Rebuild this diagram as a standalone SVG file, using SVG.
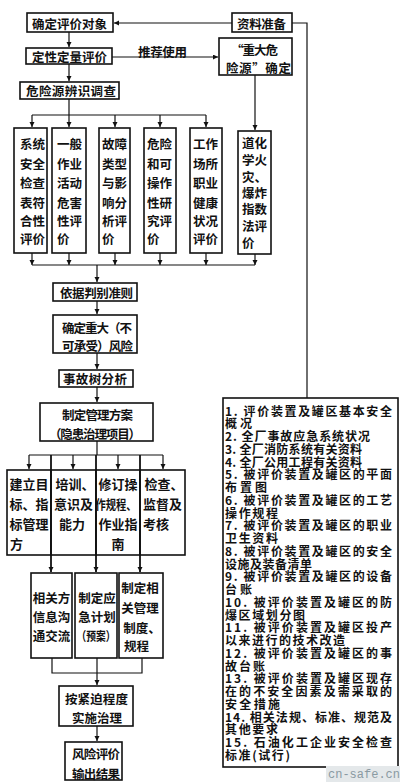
<svg xmlns="http://www.w3.org/2000/svg" width="400" height="782" viewBox="0 0 400 782">
<style>
text{font-family:"Noto Sans CJK SC","Noto Sans",sans-serif;font-weight:bold;fill:#111;dominant-baseline:central}
.b{fill:#fff;stroke:#111;stroke-width:1.6}
.t{font-size:12.5px}
.v{font-size:12.5px}
.m{font-size:13px;text-anchor:middle}
.s{font-size:12.5px;text-anchor:middle}
.l{font-size:12px;font-weight:bold}
.c{fill:none;stroke:#111;stroke-width:1.2}
.wm{font-family:"Liberation Mono",monospace;font-weight:normal;font-size:12px;fill:#8a9aa2}
</style>
<defs>
<marker id="ah" markerWidth="6" markerHeight="6" refX="5" refY="2.5" orient="auto" markerUnits="userSpaceOnUse">
<path d="M0,0 L5,2.5 L0,5 z" fill="#111"/>
</marker>
</defs>

<g id="n-object"><rect class="b" x="27" y="13" width="86" height="19"/><text class="t" x="32" y="23" textLength="75" lengthAdjust="spacing">确定评价对象</text></g>
<g id="n-data"><rect class="b" x="232" y="13" width="60" height="19"/><text class="t" x="237" y="23" textLength="49" lengthAdjust="spacing">资料准备</text></g>
<g id="n-quant"><rect class="b" x="26" y="48" width="86" height="16"/><text class="t" x="32" y="56" textLength="75" lengthAdjust="spacing">定性定量评价</text></g>
<g id="n-major"><rect class="b" x="219" y="38" width="73" height="37"/><text class="t" x="231" y="49" textLength="47" lengthAdjust="spacing">“重大危</text><text class="t" x="226" y="67" textLength="65" lengthAdjust="spacing">险源”确定</text></g>
<g id="n-hazard"><rect class="b" x="20" y="82" width="99" height="17"/><text class="t" x="26" y="90.5" textLength="90" lengthAdjust="spacing">危险源辨识调查</text></g>

<g id="n-m1"><rect class="b" x="14" y="128" width="33" height="125"/>
<text class="v" x="20" y="143">系统</text><text class="v" x="20" y="163">安全</text><text class="v" x="20" y="182">检查</text><text class="v" x="20" y="202">表符</text><text class="v" x="20" y="220">合性</text><text class="v" x="20" y="238">评价</text></g>
<g id="n-m2"><rect class="b" x="52" y="128" width="34" height="125"/>
<text class="v" x="57" y="143">一般</text><text class="v" x="57" y="163">作业</text><text class="v" x="57" y="182">活动</text><text class="v" x="57" y="202">危害</text><text class="v" x="57" y="220">性评</text><text class="v" x="57" y="238">价</text></g>
<g id="n-m3"><rect class="b" x="99" y="128" width="31" height="125"/>
<text class="v" x="102" y="143">故障</text><text class="v" x="102" y="163">类型</text><text class="v" x="102" y="182">与影</text><text class="v" x="102" y="202">响分</text><text class="v" x="102" y="220">析评</text><text class="v" x="102" y="238">价</text></g>
<g id="n-m4"><rect class="b" x="144" y="128" width="32" height="125"/>
<text class="v" x="147" y="143">危险</text><text class="v" x="147" y="163">和可</text><text class="v" x="147" y="182">操作</text><text class="v" x="147" y="202">性研</text><text class="v" x="147" y="220">究评</text><text class="v" x="147" y="238">价</text></g>
<g id="n-m5"><rect class="b" x="190" y="128" width="32" height="125"/>
<text class="v" x="193" y="143">工作</text><text class="v" x="193" y="163">场所</text><text class="v" x="193" y="182">职业</text><text class="v" x="193" y="202">健康</text><text class="v" x="193" y="220">状况</text><text class="v" x="193" y="238">评价</text></g>
<g id="n-m6"><rect class="b" x="238" y="131" width="33" height="123"/>
<text class="v" x="242" y="142">道化</text><text class="v" x="242" y="159">学火</text><text class="v" x="242" y="176">灾、</text><text class="v" x="242" y="192">爆炸</text><text class="v" x="242" y="208">指数</text><text class="v" x="242" y="225">法评</text><text class="v" x="242" y="242">价</text></g>

<g id="n-criteria"><rect class="b" x="53" y="283" width="84" height="18"/><text class="t" x="60" y="292" textLength="73" lengthAdjust="spacing">依据判别准则</text></g>
<g id="n-risk"><rect class="b" x="53" y="315" width="84" height="38"/><text class="t" x="62" y="327" textLength="70" lengthAdjust="spacing">确定重大（不</text><text class="t" x="62" y="345" textLength="71" lengthAdjust="spacing">可承受）风险</text></g>
<g id="n-fta"><rect class="b" x="59" y="370" width="74" height="17"/><text class="t" x="63" y="378.5" textLength="64" lengthAdjust="spacing">事故树分析</text></g>
<g id="n-plan"><rect class="b" x="40" y="403" width="113" height="38"/><text class="t" x="62" y="414" textLength="71" lengthAdjust="spacing">制定管理方案</text><text class="t" x="49" y="433" textLength="92" lengthAdjust="spacing">（隐患治理项目）</text></g>

<g id="n-p1"><rect class="b" x="7" y="470" width="44" height="85"/>
<text class="m" x="29" y="483">建立目</text><text class="m" x="29" y="503">标、指</text><text class="m" x="29" y="523">标管理</text><text class="m" x="10" y="543" style="text-anchor:start">方</text></g>
<g id="n-p2"><rect class="b" x="51" y="470" width="45" height="85"/>
<text class="m" x="75" y="483">培训、</text><text class="m" x="73.5" y="503">意识及</text><text class="m" x="72" y="523">能力</text></g>
<g id="n-p3"><rect class="b" x="96" y="470" width="44" height="85"/>
<text class="m" x="118" y="483">修订操</text><text class="m" x="116" y="503" textLength="41" lengthAdjust="spacingAndGlyphs">作规程、</text><text class="m" x="118" y="523">作业指</text><text class="m" x="118" y="543">南</text></g>
<g id="n-p4"><rect class="b" x="140" y="470" width="45" height="85"/>
<text class="m" x="164" y="483">检查、</text><text class="m" x="162.5" y="503">监督及</text><text class="m" x="143" y="523" style="text-anchor:start">考核</text></g>

<g id="n-q1"><rect class="b" x="31" y="573" width="41" height="85"/>
<text class="s" x="51.5" y="597">相关方</text><text class="s" x="51.5" y="616">信息沟</text><text class="s" x="51.5" y="635">通交流</text></g>
<g id="n-q2"><rect class="b" x="75" y="573" width="42" height="85"/>
<text class="s" x="97" y="597">制定应</text><text class="s" x="97" y="616">急计划</text><text class="s" x="96" y="635" textLength="39" lengthAdjust="spacingAndGlyphs">（预案）</text></g>
<g id="n-q3"><rect class="b" x="119" y="573" width="44" height="85"/>
<text class="s" x="140" y="587">制定相</text><text class="s" x="140" y="607">关管理</text><text class="s" x="142" y="627">制度、</text><text class="s" x="124" y="645" style="text-anchor:start">规程</text></g>

<g id="n-act"><rect class="b" x="59" y="686" width="74" height="40"/><text class="t" x="65" y="698" textLength="63" lengthAdjust="spacing">按紧迫程度</text><text class="t" x="72" y="717" textLength="50" lengthAdjust="spacing">实施治理</text></g>
<g id="n-out"><rect class="b" x="65" y="742" width="57" height="38"/><text class="t" x="72" y="753" textLength="48" lengthAdjust="spacing">风险评价</text><text class="t" x="72" y="773" textLength="48" lengthAdjust="spacing">输出结果</text></g>

<g id="n-list"><rect class="b" x="223" y="398" width="175" height="369"/>
<text class="l" x="225" y="410" textLength="167" lengthAdjust="spacing">1. 评价装置及罐区基本安全</text>
<text class="l" x="225" y="422.75" textLength="27" lengthAdjust="spacing">概况</text>
<text class="l" x="225" y="435.5" textLength="145" lengthAdjust="spacing">2. 全厂事故应急系统状况</text>
<text class="l" x="225" y="448.25" textLength="137" lengthAdjust="spacing">3. 全厂消防系统有关资料</text>
<text class="l" x="225" y="461" textLength="137" lengthAdjust="spacing">4. 全厂公用工程有关资料</text>
<text class="l" x="225" y="473.75" textLength="167" lengthAdjust="spacing">5. 被评价装置及罐区的平面</text>
<text class="l" x="225" y="486.5" textLength="42" lengthAdjust="spacing">布置图</text>
<text class="l" x="225" y="499.25" textLength="167" lengthAdjust="spacing">6. 被评价装置及罐区的工艺</text>
<text class="l" x="225" y="512" textLength="53" lengthAdjust="spacing">操作规程</text>
<text class="l" x="225" y="524.75" textLength="167" lengthAdjust="spacing">7. 被评价装置及罐区的职业</text>
<text class="l" x="225" y="537.5" textLength="53" lengthAdjust="spacing">卫生资料</text>
<text class="l" x="225" y="550.25" textLength="167" lengthAdjust="spacing">8. 被评价装置及罐区的安全</text>
<text class="l" x="225" y="563" textLength="87" lengthAdjust="spacing">设施及装备清单</text>
<text class="l" x="225" y="575.75" textLength="167" lengthAdjust="spacing">9. 被评价装置及罐区的设备</text>
<text class="l" x="225" y="588.5" textLength="27" lengthAdjust="spacing">台账</text>
<text class="l" x="225" y="601.25" textLength="167" lengthAdjust="spacing">10. 被评价装置及罐区的防</text>
<text class="l" x="225" y="614" textLength="80" lengthAdjust="spacing">爆区域划分图</text>
<text class="l" x="225" y="626.75" textLength="167" lengthAdjust="spacing">11. 被评价装置及罐区投产</text>
<text class="l" x="225" y="639.5" textLength="120" lengthAdjust="spacing">以来进行的技术改造</text>
<text class="l" x="225" y="652.25" textLength="167" lengthAdjust="spacing">12. 被评价装置及罐区的事</text>
<text class="l" x="225" y="665" textLength="40" lengthAdjust="spacing">故台账</text>
<text class="l" x="225" y="677.75" textLength="167" lengthAdjust="spacing">13. 被评价装置及罐区现存</text>
<text class="l" x="225" y="690.5" textLength="167" lengthAdjust="spacing">在的不安全因素及需采取的</text>
<text class="l" x="225" y="703.25" textLength="55" lengthAdjust="spacing">安全措施</text>
<text class="l" x="225" y="716" textLength="167" lengthAdjust="spacing">14. 相关法规、标准、规范及</text>
<text class="l" x="225" y="728.75" textLength="53" lengthAdjust="spacing">其他要求</text>
<text class="l" x="225" y="741.5" textLength="167" lengthAdjust="spacing">15. 石油化工企业安全检查</text>
<text class="l" x="225" y="754.25" textLength="65" lengthAdjust="spacing">标准(试行)</text>
</g>

<g id="connectors">
<path class="c" d="M232,23 H114" marker-end="url(#ah)"/>
<path class="c" d="M292,23 H307 V398"/>
<path class="c" d="M112,57 H218" marker-end="url(#ah)"/>
<path class="c" d="M69,32 V47" marker-end="url(#ah)"/>
<path class="c" d="M69,64 V81" marker-end="url(#ah)"/>
<path class="c" d="M69,99 V115 M32,115 H206"/>
<path class="c" d="M32,115 V127" marker-end="url(#ah)"/>
<path class="c" d="M69,115 V127" marker-end="url(#ah)"/>
<path class="c" d="M115,115 V127" marker-end="url(#ah)"/>
<path class="c" d="M160,115 V127" marker-end="url(#ah)"/>
<path class="c" d="M206,115 V127" marker-end="url(#ah)"/>
<path class="c" d="M255,75 V130" marker-end="url(#ah)"/>
<path class="c" d="M32,253 V265" marker-end="url(#ah)"/>
<path class="c" d="M69,253 V265" marker-end="url(#ah)"/>
<path class="c" d="M115,253 V265" marker-end="url(#ah)"/>
<path class="c" d="M160,253 V265" marker-end="url(#ah)"/>
<path class="c" d="M206,253 V265" marker-end="url(#ah)"/>
<path class="c" d="M255,254 V265" marker-end="url(#ah)"/>
<path class="c" d="M32,265 H255"/>
<path class="c" d="M97,265 V282" marker-end="url(#ah)"/>
<path class="c" d="M97,301 V314" marker-end="url(#ah)"/>
<path class="c" d="M97,353 V369" marker-end="url(#ah)"/>
<path class="c" d="M97,387 V402" marker-end="url(#ah)"/>
<path class="c" d="M97,441 V455 M29,455 H163"/>
<path class="c" d="M29,455 V469" marker-end="url(#ah)"/>
<path class="c" d="M73,455 V469" marker-end="url(#ah)"/>
<path class="c" d="M118,455 V469" marker-end="url(#ah)"/>
<path class="c" d="M163,455 V469" marker-end="url(#ah)"/>
<path class="c" d="M51,455 V572" marker-end="url(#ah)" style="stroke-width:1.8"/>
<path class="c" d="M96,455 V572" marker-end="url(#ah)" style="stroke-width:1.8"/>
<path class="c" d="M140,455 V572" marker-end="url(#ah)" style="stroke-width:1.8"/>
<path class="c" d="M52,658 V673 H142 V658"/>
<path class="c" d="M97,658 V685" marker-end="url(#ah)"/>
<path class="c" d="M97,726 V741" marker-end="url(#ah)"/>
</g>
<text class="t" x="138" y="51" textLength="49" lengthAdjust="spacing">推荐使用</text>

<rect x="326" y="766" width="74" height="16" fill="#e4e8ea"/>
<text class="wm" x="328" y="775">cn-safe.cn</text>
</svg>
